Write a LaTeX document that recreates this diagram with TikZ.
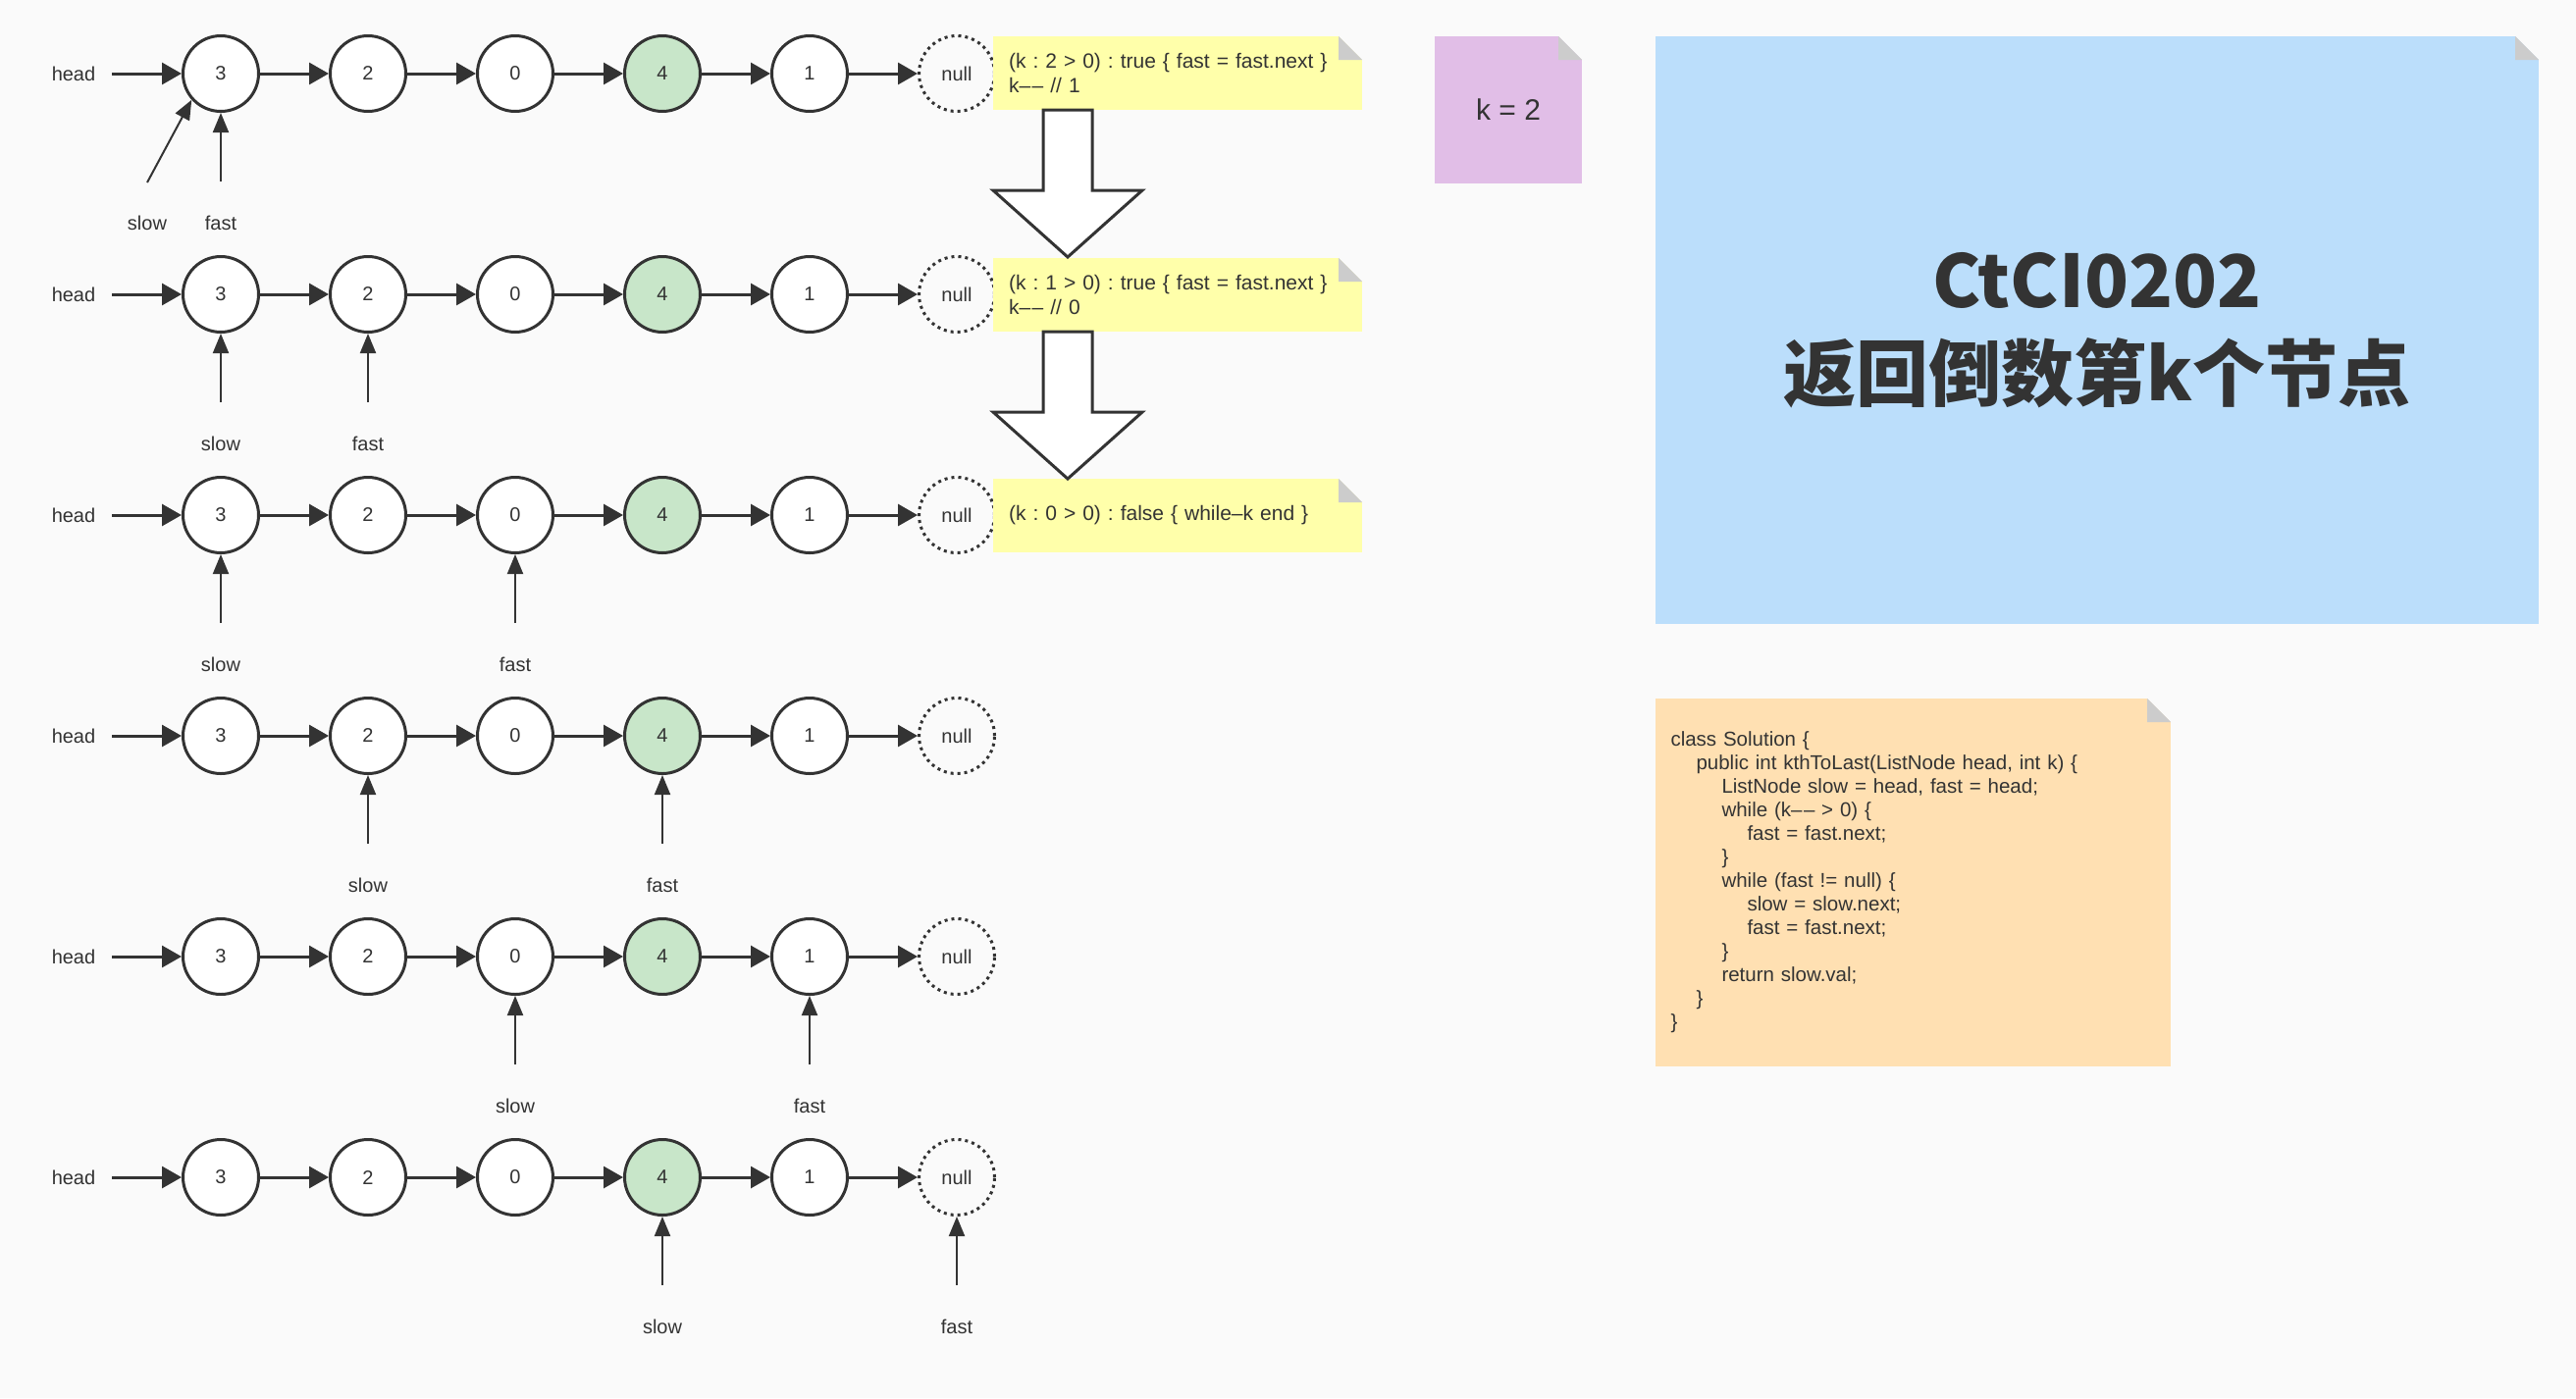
\documentclass[tikz,border=0pt]{standalone}
\usepackage{fontspec}
\setmainfont{Liberation Sans}
\newfontfamily\cjk{Noto Sans CJK SC}
\usetikzlibrary{arrows.meta,calc}
\definecolor{bgc}{RGB}{250,250,250}
\definecolor{dk}{RGB}{51,51,51}
\definecolor{yel}{RGB}{255,255,170}
\definecolor{pur}{RGB}{225,190,231}
\definecolor{blu}{RGB}{187,222,251}
\definecolor{ora}{RGB}{255,224,178}
\definecolor{grn}{RGB}{200,230,201}
\definecolor{foldc}{RGB}{204,204,204}
\frenchspacing
\newcommand\dogear[1]{%
  \fill[bgc] (#1.north east) -- ([xshift=-24pt]#1.north east) -- ([yshift=-24pt]#1.north east) -- cycle;
  \fill[foldc] ([xshift=-24pt]#1.north east) -- ([xshift=-24pt,yshift=-24pt]#1.north east) -- ([yshift=-24pt]#1.north east) -- cycle;}
\newcommand\ind{\hspace*{26pt}}
\newcommand\dd{\textendash\kern1.5pt\textendash}
\begin{document}
\begin{tikzpicture}[x=1pt,y=-1pt,font=\fontsize{20}{24}\selectfont,text=dk,
  lnode/.style={circle,draw=dk,line width=3pt,fill=white,minimum size=77pt,inner sep=0pt},
  nullnode/.style={circle,draw=dk,line width=3pt,dash pattern=on 3pt off 4pt,minimum size=77pt,inner sep=0pt},
  hlabel/.style={inner sep=0pt,minimum width=78pt},
  harrow/.style={draw=dk,line width=3pt,-{Triangle[length=20pt,width=22pt]}},
  parrow/.style={draw=dk,line width=2pt,-{Triangle[length=20pt,width=16pt]}},
  plabel/.style={inner sep=0pt},
  note/.style={anchor=north west,outer sep=0pt},
  ynote/.style={note,fill=yel,inner xsep=16pt,inner ysep=0pt,text width=344pt,minimum height=75pt,align=left,font=\fontsize{21}{25}\selectfont},
  blockarr/.style={draw=dk,line width=3pt,fill=white,line join=miter}]
\fill[bgc] (0,0) rectangle (2625,1425);
\useasboundingbox (0,0) rectangle (2625,1425);

% rows of linked lists
\foreach \r in {1,...,6} {
  \pgfmathsetmacro\yy{75+225*(\r-1)}
  \node[hlabel] (h\r) at (75,\yy) {head};
  \foreach \v [count=\i from 0] in {3,2,0,4,1} {
    \ifnum\i=3
      \node[lnode,fill=grn] (n\r-\i) at (225+150*\i,\yy) {\v};
    \else
      \node[lnode] (n\r-\i) at (225+150*\i,\yy) {\v};
    \fi
  }
  \node[nullnode] (n\r-5) at (975,\yy) {null};
  \draw[harrow] (h\r) -- (n\r-0);
  \foreach \i [evaluate=\i as \j using int(\i+1)] in {0,...,4}
    \draw[harrow] (n\r-\i) -- (n\r-\j);
}

% pointers row 1
\coordinate (s1) at ($(n1-0.center)+(-75,111)$);
\coordinate (f1) at ($(n1-0.center)+(0,110)$);
\draw[parrow] (s1) -- (n1-0.222);
\draw[parrow] (f1) -- (n1-0);
\node[plabel] (ls1) at ($(n1-0.center)+(-75,152)$) {slow};
\node[plabel] (lf1) at ($(n1-0.center)+(0,152)$) {fast};

% pointers rows 2-6
\foreach \r/\s/\f in {2/0/1,3/0/2,4/1/3,5/2/4,6/3/5} {
  \coordinate (s\r) at ($(n\r-\s.center)+(0,110)$);
  \coordinate (f\r) at ($(n\r-\f.center)+(0,110)$);
  \draw[parrow] (s\r) -- (n\r-\s);
  \draw[parrow] (f\r) -- (n\r-\f);
  \node[plabel] (ls\r) at ($(n\r-\s.center)+(0,152)$) {slow};
  \node[plabel] (lf\r) at ($(n\r-\f.center)+(0,152)$) {fast};
}

% yellow notes
\node[ynote] (y1) at (1012,37) {(k : 2 > 0) : true \{ fast = fast.next \}\\k\dd{} // 1};
\dogear{y1}
\node[ynote] (y2) at (1012,263) {(k : 1 > 0) : true \{ fast = fast.next \}\\k\dd{} // 0};
\dogear{y2}
\node[ynote] (y3) at (1012,488) {(k : 0 > 0) : false \{ while\textendash k end \}};
\dogear{y3}

% block arrows
\draw[blockarr] ([xshift=51pt]y1.south west) -- ++(50,0) -- ++(0,82) -- ++(51,0) -- ++(-76,68) -- ++(-76,-68) -- ++(51,0) -- cycle;
\draw[blockarr] ([xshift=51pt]y2.south west) -- ++(50,0) -- ++(0,82) -- ++(51,0) -- ++(-76,68) -- ++(-76,-68) -- ++(51,0) -- cycle;

% k = 2
\node[note,fill=pur,minimum width=150pt,minimum height=150pt,inner sep=0pt,font=\fontsize{30}{36}\selectfont] (kn) at (1462,37) {k = 2};
\dogear{kn}

% title
\node[note,fill=blu,minimum width=900pt,minimum height=599pt,inner sep=0pt,align=center,font=\cjk\bfseries\fontsize{74}{95}\selectfont] (title) at (1687,37) {CtCI0202\\返回倒数第k个节点};
\dogear{title}

% code
\node[note,fill=ora,minimum height=375pt,inner xsep=15.5pt,inner ysep=0pt,text width=494pt,align=left,font=\fontsize{20.5}{24}\selectfont] (code) at (1687,712) {%
class Solution \{\\
\ind public int kthToLast(ListNode head, int k) \{\\
\ind\ind ListNode slow = head, fast = head;\\
\ind\ind while (k\dd{} > 0) \{\\
\ind\ind\ind fast = fast.next;\\
\ind\ind \}\\
\ind\ind while (fast != null) \{\\
\ind\ind\ind slow = slow.next;\\
\ind\ind\ind fast = fast.next;\\
\ind\ind \}\\
\ind\ind return slow.val;\\
\ind \}\\
\}};
\dogear{code}
\end{tikzpicture}
\end{document}
